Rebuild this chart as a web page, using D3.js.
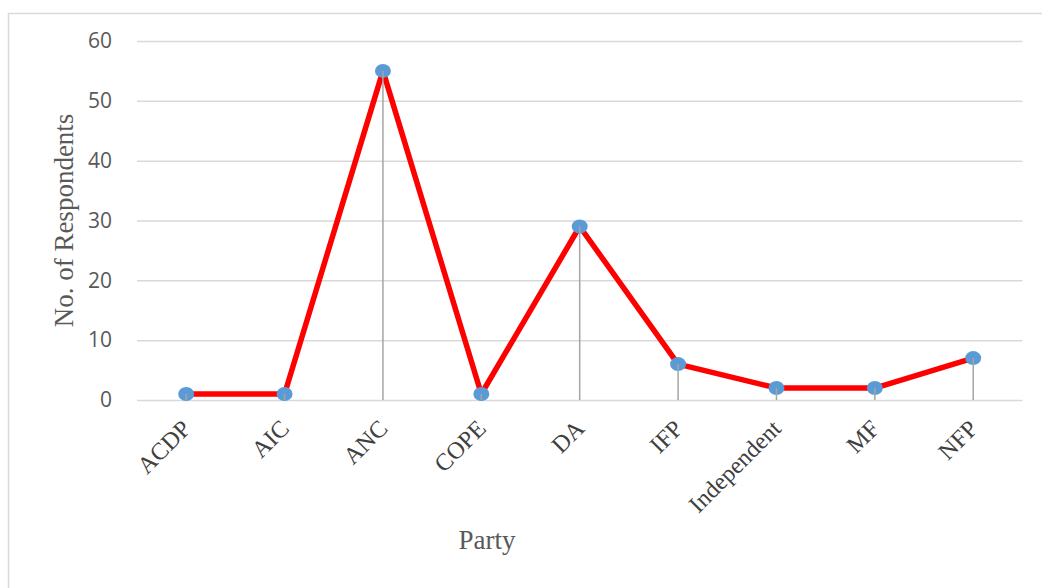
<!DOCTYPE html>
<html>
<head>
<meta charset="utf-8">
<script src="https://cdn.jsdelivr.net/npm/d3@7"></script>
<style>
  body { margin: 0; background: #fff; }
  svg { display: block; }
</style>
</head>
<body>
<div id="chart"></div>
<script>
// party counts
const parties = ["ACDP", "AIC", "ANC", "COPE", "DA", "IFP", "Independent", "MF", "NFP"];
const respondents = [1, 1, 55, 1, 29, 6, 2, 2, 7];
const yTicks = [0, 10, 20, 30, 40, 50, 60];

const width = 1042, height = 588;
const margin = { left: 137, right: 20, top: 41, bottom: 188 };

const svg = d3.select('#chart').append('svg')
    .attr('width', width)
    .attr('height', height);

// outer frame (runs off the right and bottom edges)
svg.append('rect')
    .attr('x', 8.5).attr('y', 13.5)
    .attr('width', 1100).attr('height', 700)
    .attr('fill', 'none')
    .attr('stroke', '#d9d9d9')
    .attr('stroke-width', 1.5);

const x = d3.scaleBand()
    .domain(parties)
    .range([margin.left, width - margin.right + 0.4]);

const y = d3.scaleLinear()
    .domain([0, 60])
    .range([height - margin.bottom, margin.top]);

// gridlines + y labels
const yAxis = d3.axisLeft(y)
    .tickValues(yTicks)
    .tickSize(-(x.range()[1] - x.range()[0]))
    .tickPadding(25);

svg.append('g')
    .attr('transform', `translate(${margin.left},0)`)
    .call(yAxis)
    .call(g => g.select('.domain').remove())
    .call(g => g.selectAll('line').attr('stroke', '#d9d9d9').attr('stroke-width', 1.5))
    .call(g => g.selectAll('text')
        .attr('fill', '#595959')
        .style('font-family', '"Open Sans", "Liberation Sans", sans-serif')
        .style('font-size', '21px'));

// category labels, rotated
const xAxis = d3.axisBottom(x).tickSize(0).tickPadding(0);
svg.append('g')
    .attr('transform', `translate(0,${y(0)})`)
    .call(xAxis)
    .call(g => g.select('.domain').remove())
    .call(g => g.selectAll('text')
        .attr('fill', '#404040')
        .style('font-family', '"Liberation Serif", "Times New Roman", serif')
        .style('font-size', '24px')
        .attr('text-anchor', 'end')
        .attr('dy', null)
        .attr('y', 0)
        .attr('transform', 'translate(6,30) rotate(-45)'));

const cx = d => x(d) + x.bandwidth() / 2;
const pts = parties.map((p, i) => ({ party: p, value: respondents[i] }));

// series line
const line = d3.line()
    .x(d => cx(d.party))
    .y(d => y(d.value));

svg.append('path')
    .datum(pts)
    .attr('d', line)
    .attr('fill', 'none')
    .attr('stroke', '#ff0000')
    .attr('stroke-width', 5.5)
    .attr('stroke-linejoin', 'round');

// markers
svg.selectAll('.dot')
    .data(pts)
    .enter().append('ellipse')
    .attr('class', 'dot')
    .attr('cx', d => cx(d.party))
    .attr('cy', d => y(d.value))
    .attr('rx', 8)
    .attr('ry', 7)
    .attr('fill', '#5b9bd5');

// drop lines on top of markers
svg.selectAll('.drop')
    .data(pts)
    .enter().append('line')
    .attr('class', 'drop')
    .attr('x1', d => cx(d.party))
    .attr('x2', d => cx(d.party))
    .attr('y1', d => y(d.value))
    .attr('y2', y(0))
    .attr('stroke', '#a5a5a5')
    .attr('stroke-width', 1.5);

// axis titles
svg.append('text')
    .attr('transform', `translate(73,${(y(0) + y(60)) / 2}) rotate(-90)`)
    .attr('text-anchor', 'middle')
    .attr('fill', '#595959')
    .style('font-family', '"Liberation Serif", "Times New Roman", serif')
    .style('font-size', '27px')
    .text('No. of Respondents');

svg.append('text')
    .attr('x', 487)
    .attr('y', 549)
    .attr('text-anchor', 'middle')
    .attr('fill', '#595959')
    .style('font-family', '"Liberation Serif", "Times New Roman", serif')
    .style('font-size', '27px')
    .text('Party');
</script>
</body>
</html>
